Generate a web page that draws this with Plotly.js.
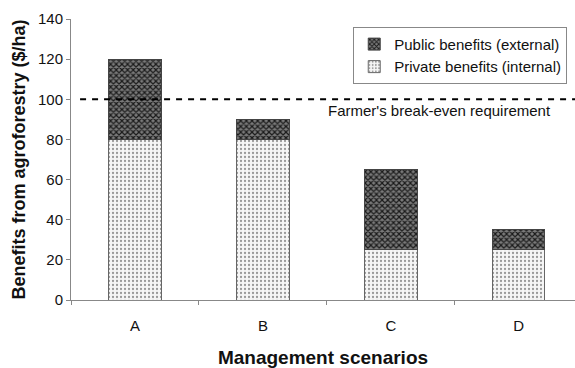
<!DOCTYPE html>
<html><head><meta charset="utf-8">
<script src="https://cdn.plot.ly/plotly-3.0.1.min.js"></script>
<style>html,body{margin:0;padding:0;background:#fff;overflow:hidden}</style>
</head><body><div id="chart" style="width:575px;height:368px"></div>
<script>
const scenarios = ['A', 'B', 'C', 'D'];
const privateBenefits = [80, 80, 25, 25];
const publicBenefits = [40, 10, 40, 10];
const breakEven = 100;
const breakEvenLabel = "Farmer's break-even requirement";

const font = 'Arial, "Liberation Sans", sans-serif';
const traces = [
  {type: 'bar', name: 'Private benefits (internal)', x: scenarios, y: privateBenefits, width: 0.41,
   legendgroup: 'p', marker: {color: '#f4f4f4', line: {color: '#666', width: 1},
   pattern: {shape: '.', fgcolor: '#999', bgcolor: '#f6f6f6', size: 4, solidity: 0.25}}},
  {type: 'bar', name: 'Public benefits (external)', x: scenarios, y: publicBenefits, width: 0.41,
   legendgroup: 'q', marker: {color: '#555', line: {color: '#444', width: 1},
   pattern: {shape: 'x', fgcolor: '#1a1a1a', bgcolor: '#7a7a7a', size: 4, solidity: 0.5}}}
];
const layout = {
  width: 575, height: 368, margin: {l: 71, r: 0, t: 19, b: 68},
  barmode: 'stack', paper_bgcolor: '#fff', plot_bgcolor: '#fff',
  font: {family: font, size: 15, color: '#111'},
  showlegend: true,
  legend: {x: 0.56, y: 0.972, xanchor: 'left', yanchor: 'top', traceorder: 'reversed',
    bordercolor: '#888', borderwidth: 1, bgcolor: '#fff', tracegroupgap: 11,
    itemwidth: 30,
    font: {family: font, size: 15, color: '#111'}},
  xaxis: {type: 'category', range: [-0.5, 3.44], tickson: 'boundaries', ticks: 'outside', ticklen: 4,
    tickcolor: '#888', showline: true, linecolor: '#888', showgrid: false, fixedrange: true,
    ticklabelstandoff: 12, automargin: false,
    tickfont: {size: 15, color: '#111'},
    title: {text: '<b>Management scenarios</b>', font: {size: 19, color: '#111'}, standoff: 24}},
  yaxis: {range: [0, 140], dtick: 20, ticks: 'outside', ticklen: 4, tickcolor: '#888',
    showline: true, linecolor: '#888', showgrid: false, zeroline: false, automargin: false,
    tickfont: {size: 15, color: '#111'},
    title: {text: '<b>Benefits from agroforestry ($/ha)</b>', font: {size: 18, color: '#111'}, standoff: 7}},
  shapes: [{type: 'line', xref: 'paper', yref: 'y', x0: 0.018, x1: 1, y0: breakEven, y1: breakEven,
    line: {color: '#000', width: 2, dash: '6px,6px'}}],
  annotations: [{text: breakEvenLabel, xref: 'paper', yref: 'y', x: 0.956, y: breakEven,
    xanchor: 'right', yanchor: 'top', yshift: -1, showarrow: false,
    font: {family: font, size: 15, color: '#111'}}]
};
Plotly.newPlot('chart', traces, layout, {displayModeBar: false, staticPlot: true});
</script></body></html>
